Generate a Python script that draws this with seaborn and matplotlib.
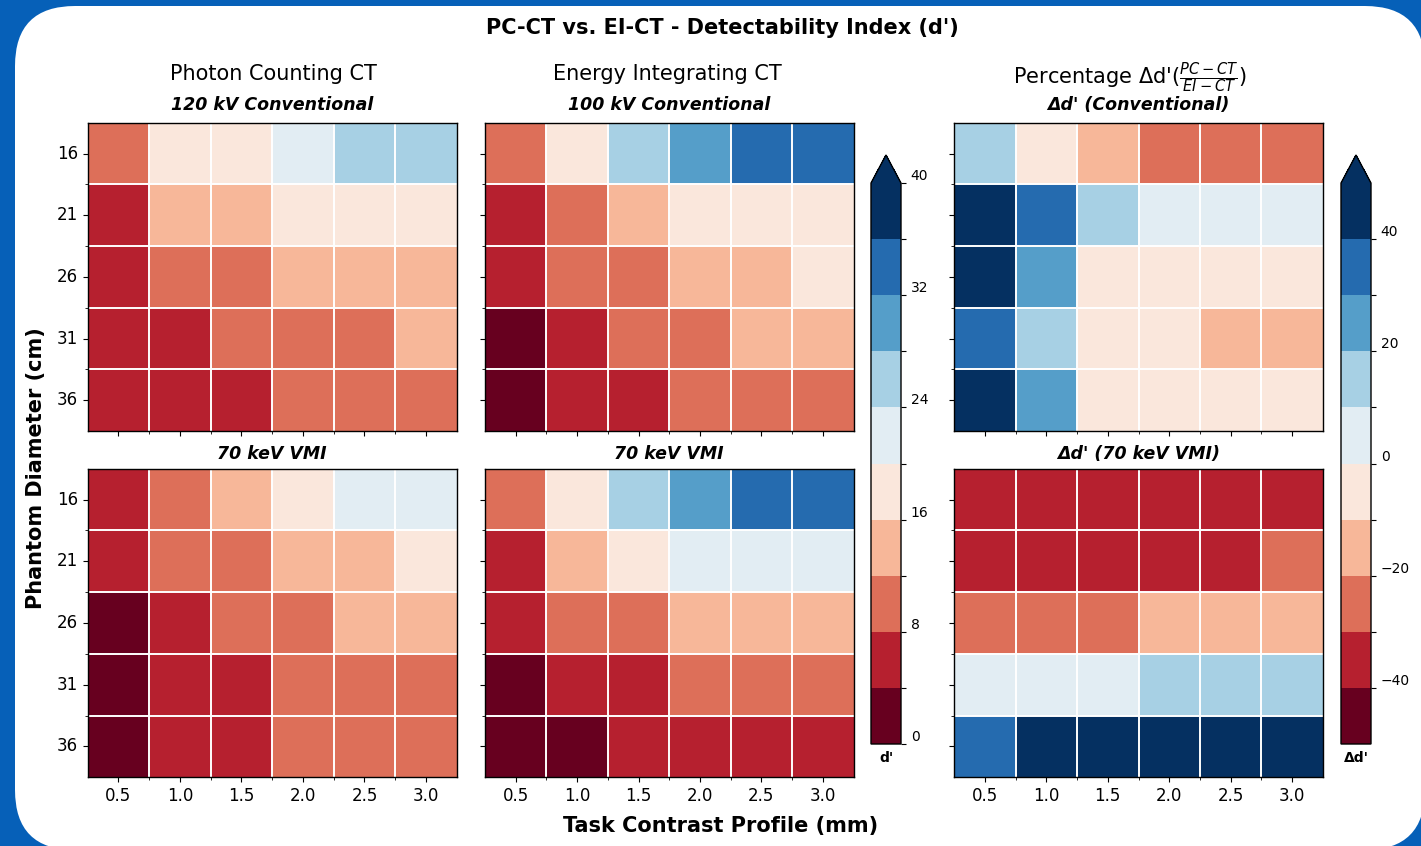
import numpy as np
import pandas as pd
import matplotlib
matplotlib.use("Agg")
import matplotlib.pyplot as plt
import seaborn as sns
from matplotlib.patches import FancyBboxPatch
from matplotlib.transforms import IdentityTransform
from matplotlib.colors import Normalize
from matplotlib.cm import ScalarMappable

# ---------------------------------------------------------------- data
diameters = [16, 21, 26, 31, 36]                 # phantom diameter (cm)
contrast_profiles = [0.5, 1.0, 1.5, 2.0, 2.5, 3.0]  # task contrast profile (mm)

# Detectability index d' – conventional acquisitions
pc_conventional = [
    [11.6, 17.2, 19.9, 22.4, 25.5, 26.5],
    [7.6, 14.9, 15.8, 17.4, 18.2, 18.8],
    [6.8, 11.5, 10.8, 13.2, 14.6, 15.4],
    [5.0, 7.6, 9.5, 11.0, 11.8, 12.6],
    [4.8, 6.9, 7.4, 8.6, 9.5, 10.3],
]
ei_conventional = [
    [10.1, 18.1, 24.5, 29.5, 33.8, 35.2],
    [5.1, 11.2, 13.9, 16.1, 17.0, 17.6],
    [4.6, 9.3, 11.4, 13.8, 15.3, 16.4],
    [3.7, 6.6, 9.9, 11.6, 13.5, 14.4],
    [3.2, 5.6, 7.7, 8.9, 9.8, 10.9],
]
delta_conventional = [
    [14.9, -5.0, -18.8, -24.1, -24.6, -24.7],
    [49.0, 33.0, 13.7, 8.1, 7.1, 6.8],
    [47.8, 23.7, -5.3, -4.3, -4.6, -6.1],
    [35.1, 15.2, -4.0, -5.2, -12.6, -12.5],
    [50.0, 23.2, -3.9, -3.4, -3.1, -5.5],
]

# Detectability index d' – 70 keV virtual monoenergetic images
pc_vmi = [
    [6.5, 11.5, 15.8, 19.2, 21.8, 22.9],
    [4.6, 8.9, 11.8, 13.9, 15.2, 16.5],
    [3.9, 7.2, 8.6, 11.2, 12.6, 13.4],
    [3.6, 6.3, 7.4, 9.4, 10.4, 11.3],
    [3.5, 5.2, 6.6, 8.1, 9.0, 9.8],
]
ei_vmi = [
    [10.2, 17.6, 24.8, 29.8, 33.5, 35.4],
    [7.2, 13.6, 17.1, 20.6, 21.9, 22.8],
    [5.4, 9.8, 11.5, 12.9, 14.5, 15.6],
    [3.4, 5.9, 6.9, 8.2, 9.1, 9.9],
    [2.6, 3.5, 4.5, 5.6, 6.2, 6.8],
]
delta_vmi = [
    [-36.3, -34.7, -36.3, -35.6, -34.9, -35.3],
    [-36.1, -34.6, -31.0, -32.5, -30.6, -27.6],
    [-27.8, -26.5, -25.2, -13.2, -13.1, -14.1],
    [5.9, 6.8, 7.2, 14.6, 14.3, 14.1],
    [34.6, 48.6, 46.7, 44.6, 45.2, 44.1],
]

column_headers = ["Photon Counting CT", "Energy Integrating CT",
                  r"Percentage Δd'($\frac{PC-CT}{EI-CT}$)"]
panel_titles = [
    ["120 kV Conventional", "100 kV Conventional", "Δd' (Conventional)"],
    ["70 keV VMI", "70 keV VMI", "Δd' (70 keV VMI)"],
]
panel_data = [
    [pc_conventional, ei_conventional, delta_conventional],
    [pc_vmi, ei_vmi, delta_vmi],
]

# ---------------------------------------------------------------- figure
W, H = 1421, 846
fig = plt.figure(figsize=(W / 100, H / 100), dpi=100, facecolor="#0660B8")

# rounded white card on the blue backdrop (pixel coordinates)
card = FancyBboxPatch((15, -4), 1410, 844,
                      boxstyle="round,pad=0,rounding_size=60",
                      transform=IdentityTransform(),
                      facecolor="white", edgecolor="none", zorder=-10)
fig.add_artist(card)


def px_axes(x0, y0, x1, y1):
    """Axes placed from pixel edges measured from the top-left corner."""
    return fig.add_axes([x0 / W, 1 - y1 / H, (x1 - x0) / W, (y1 - y0) / H])


cmap = matplotlib.colormaps["RdBu"].resampled(10)
norm_d = Normalize(vmin=0, vmax=40)
norm_delta = Normalize(vmin=-50, vmax=50)

col_x = [(87.7, 456.7), (485.0, 853.5), (954.3, 1322.7)]
row_y = [(122.7, 431.2), (468.8, 777.3)]
title_pad = [9.0, 7.0]

xlabels = [f"{v:.1f}" for v in contrast_profiles]

for r in range(2):
    for c in range(3):
        ax = px_axes(col_x[c][0], row_y[r][0], col_x[c][1], row_y[r][1])
        df = pd.DataFrame(panel_data[r][c], index=diameters, columns=xlabels)
        norm = norm_delta if c == 2 else norm_d
        sns.heatmap(df, ax=ax, cmap=cmap, vmin=norm.vmin, vmax=norm.vmax,
                    cbar=False, linewidths=0,
                    xticklabels=xlabels, yticklabels=diameters)
        ax.set_xlabel("")
        ax.set_ylabel("")
        for s in ax.spines.values():
            s.set_visible(True)
            s.set_linewidth(1.0)
            s.set_color("black")
        ax.set_xticks(np.arange(1, len(contrast_profiles)), minor=True)
        ax.set_yticks(np.arange(1, len(diameters)), minor=True)
        ax.grid(False, which="major")
        ax.grid(True, which="minor", color="white", linewidth=1.4)
        ax.tick_params(which="major", labelsize=12, length=3.5)
        ax.tick_params(which="minor", length=2)
        plt.setp(ax.get_yticklabels(), rotation=0, va="center")
        plt.setp(ax.get_xticklabels(), rotation=0)
        if r == 0:
            ax.tick_params(labelbottom=False)
        if c > 0:
            ax.tick_params(labelleft=False)
        ax.set_title(panel_titles[r][c], fontsize=12.5, fontweight="bold",
                     fontstyle="italic", pad=title_pad[r])

# colour bars
cax1 = px_axes(871, 155, 901, 744)
cb1 = fig.colorbar(ScalarMappable(norm=norm_d, cmap=cmap), cax=cax1, extend="max")
ticks1 = np.arange(0, 41, 4)
cb1.set_ticks(ticks1, labels=[str(t) if t % 8 == 0 else "" for t in ticks1])
cb1.ax.tick_params(labelsize=10)
cb1.outline.set_linewidth(1.0)

cax2 = px_axes(1341, 155, 1371, 744)
cb2 = fig.colorbar(ScalarMappable(norm=norm_delta, cmap=cmap), cax=cax2, extend="max")
ticks2 = np.arange(-40, 41, 10)
cb2.set_ticks(ticks2, labels=[(f"{t}".replace("-", "\u2212") if t % 20 == 0 else "")
                              for t in ticks2])
cb2.ax.tick_params(labelsize=10)
cb2.outline.set_linewidth(1.0)

# colour-bar numbers sit just above their ticks
for cb in (cb1, cb2):
    for lab in cb.ax.get_yticklabels():
        lab.set_verticalalignment("bottom")

fig.text(886 / W, 1 - 758 / H, "d'", ha="center", va="center",
         fontsize=10, fontweight="bold")
fig.text(1356 / W, 1 - 758 / H, "Δd'", ha="center", va="center",
         fontsize=10, fontweight="bold")

# headings and shared axis labels
fig.text(722 / W, 1 - 27.5 / H, "PC-CT vs. EI-CT - Detectability Index (d')",
         ha="center", va="center", fontsize=15, fontweight="bold")
header_x = [273, 667, 1130]
header_base = [80.5, 80.5, 84.3]
for hx, hb, txt in zip(header_x, header_base, column_headers):
    fig.text(hx / W, 1 - hb / H, txt, ha="center", va="baseline", fontsize=15)

fig.text(36 / W, 1 - 468 / H, "Phantom Diameter (cm)", rotation=90,
         ha="center", va="center", fontsize=15, fontweight="bold")
fig.text(721 / W, 1 - 826 / H, "Task Contrast Profile (mm)",
         ha="center", va="center", fontsize=15, fontweight="bold")

fig.savefig("out.png", dpi=100, facecolor=fig.get_facecolor())
